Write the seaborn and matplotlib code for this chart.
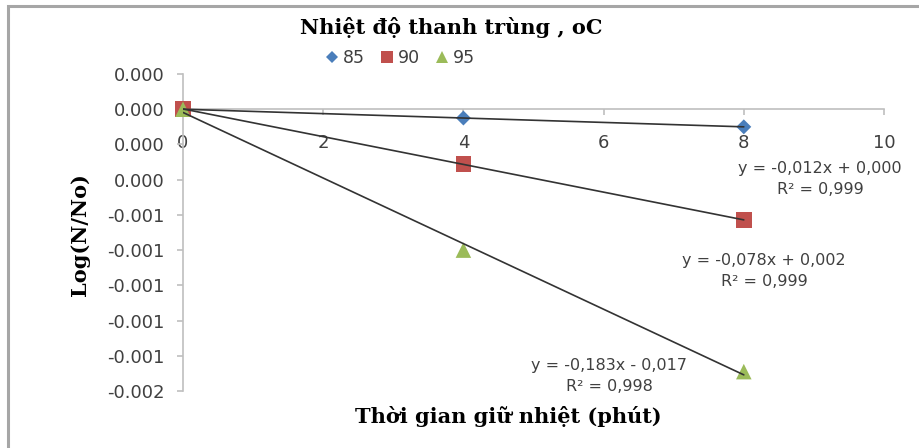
import numpy as np
import pandas as pd
import matplotlib
matplotlib.use("Agg")
import matplotlib.pyplot as plt
from matplotlib.lines import Line2D
from matplotlib.patches import Rectangle
import seaborn as sns

# Holding time (minutes) and log reduction for each pasteurisation temperature
time_min = [0, 4, 8]
temps = ["85", "90", "95"]
log_85 = [0.0, -0.00005, -0.00010]
log_90 = [0.0, -0.00031, -0.00063]
log_95 = [0.0, -0.00080, -0.00149]

x_ticks = [0, 2, 4, 6, 8, 10]
y_ticks = [-0.0016, -0.0014, -0.0012, -0.0010, -0.0008, -0.0006,
           -0.0004, -0.0002, 0.0, 0.0002]
y_tick_labels = ["-0.002", "-0.001", "-0.001", "-0.001", "-0.001", "-0.001",
                 "0.000", "0.000", "0.000", "0.000"]

fit_labels = ["y = -0,012x + 0,000\nR² = 0,999",
              "y = -0,078x + 0,002\nR² = 0,999",
              "y = -0,183x - 0,017\nR² = 0,998"]

colors = {"85": "#4a7ebb", "90": "#c0504d", "95": "#9bbb59"}
markers = {"85": "D", "90": "s", "95": "^"}
sizes = {"85": 58, "90": 125, "95": 125}

df = pd.DataFrame({
    "t": time_min * 3,
    "logN": log_85 + log_90 + log_95,
    "temp": [t for t in temps for _ in time_min],
})

sns.set_theme(style="white")
plt.rcParams["font.family"] = ["DejaVu Sans"]

W, H = 919, 448
fig = plt.figure(figsize=(W / 100, H / 100), dpi=100)
ax = fig.add_axes([183 / W, 1 - 391 / H, (884 - 183) / W, (391 - 74) / H])

sns.scatterplot(data=df, x="t", y="logN", hue="temp", style="temp",
                size="temp", palette=colors, markers=markers, sizes=sizes,
                linewidth=0, legend=False, ax=ax, zorder=3, clip_on=False)

for temp in temps:
    sub = df[df["temp"] == temp]
    sns.regplot(data=sub, x="t", y="logN", scatter=False, ci=None, ax=ax,
                color="#333333", line_kws={"lw": 1.2, "zorder": 4})

ax.set_xlim(0, 10)
ax.set_ylim(y_ticks[0], y_ticks[-1])
ax.set_xticks(x_ticks)
ax.set_xticklabels([str(v) for v in x_ticks])
ax.set_yticks(y_ticks)
ax.set_yticklabels(y_tick_labels)
ax.set_xlabel("")
ax.set_ylabel("")

axis_grey = "#bfbfbf"
for side in ["top", "right"]:
    ax.spines[side].set_visible(False)
ax.spines["bottom"].set_position(("data", 0))
for side in ["bottom", "left"]:
    ax.spines[side].set_color(axis_grey)
    ax.spines[side].set_linewidth(1.2)
ax.tick_params(axis="both", colors=axis_grey, length=4, width=1.2,
               labelcolor="#404040", labelsize=13)
ax.tick_params(axis="x", direction="out", pad=14, bottom=True)
ax.tick_params(axis="y", direction="out", pad=9, left=True)

serif = ["DejaVu Serif"]
fig.text(451 / W, 1 - 28 / H, "Nhiệt độ thanh trùng , oC", family=serif,
         weight="bold", fontsize=15, ha="center", va="center", color="black")
fig.text(80 / W, 1 - 235 / H, "Log(N/No)", family=serif, weight="bold",
         fontsize=15, rotation=90, ha="center", va="center", color="black")
fig.text(508 / W, 1 - 416 / H, "Thời gian giữ nhiệt (phút)", family=serif,
         weight="bold", fontsize=15, ha="center", va="center", color="black")

label_pos = [(820, 179), (764, 271), (609, 376)]
for (px, py), txt in zip(label_pos, fit_labels):
    fig.text(px / W, 1 - py / H, txt, ha="center", va="center",
             fontsize=11.5, color="#404040", linespacing=1.5)

handles = [Line2D([], [], ls="none", marker=markers[t], color=colors[t],
                  markersize=np.sqrt(sizes[t]) * 0.8, markeredgewidth=0)
           for t in temps]
fig.legend(handles, temps, loc="center", bbox_to_anchor=(400 / W, 1 - 58 / H),
           ncol=3, frameon=False, fontsize=12.5, handlelength=0.8,
           handletextpad=0.2, columnspacing=0.9, labelcolor="#404040")

fig.add_artist(Rectangle((8 / W, -0.1), 1.2, 1 - 6.5 / H + 0.1,
                         transform=fig.transFigure, fill=False,
                         edgecolor="#a6a6a6", lw=2.2, clip_on=False))

fig.savefig("out.png", dpi=100, facecolor="white")
